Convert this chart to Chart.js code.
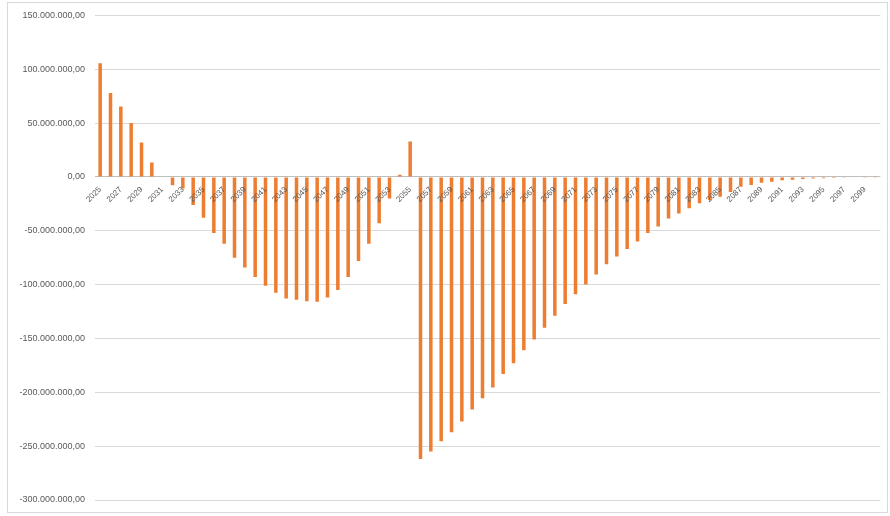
<!DOCTYPE html>
<html>
<head>
<meta charset="utf-8">
<script src="https://cdn.jsdelivr.net/npm/chart.js@4/dist/chart.umd.min.js"></script>
<style>
  html, body { margin: 0; padding: 0; background: #ffffff; }
  #wrap { position: relative; width: 890px; height: 516px; }
  #frame { position: absolute; left: 7px; top: 2px; width: 879px; height: 509px; border: 1px solid #d9d9d9; pointer-events: none; }
  canvas { position: absolute; left: 0; top: 0; }
</style>
</head>
<body>
<div id="wrap">
  <canvas id="c" width="890" height="516"></canvas>
  <div id="frame"></div>
</div>
<script>
const years = [
  '2025','2026','2027','2028','2029','2030','2031','2032','2033','2034',
  '2035','2036','2037','2038','2039','2040','2041','2042','2043','2044',
  '2045','2046','2047','2048','2049','2050','2051','2052','2053','2054',
  '2055','2056','2057','2058','2059','2060','2061','2062','2063','2064',
  '2065','2066','2067','2068','2069','2070','2071','2072','2073','2074',
  '2075','2076','2077','2078','2079','2080','2081','2082','2083','2084',
  '2085','2086','2087','2088','2089','2090','2091','2092','2093','2094',
  '2095','2096','2097','2098','2099','2100'
];

const values = [
  105500000, 78000000, 65500000, 50000000, 32000000, 13500000, 0, -7700000, -10700000, -26000000,
  -38000000, -52000000, -62000000, -75000000, -84000000, -93000000, -101000000, -107500000, -113000000, -114000000,
  -115500000, -116000000, -112000000, -105000000, -93000000, -78000000, -62000000, -43000000, -20000000, 2000000,
  33000000, -262000000, -255000000, -245500000, -237000000, -227000000, -216000000, -205500000, -195500000, -183000000,
  -173000000, -161000000, -151000000, -140000000, -129000000, -118000000, -109000000, -100000000, -90500000, -81000000,
  -74000000, -67000000, -60000000, -52000000, -46000000, -38500000, -34000000, -29000000, -24500000, -21500000,
  -18500000, -14000000, -9000000, -7500000, -5500000, -4500000, -3000000, -2500000, -2000000, -1500000,
  -1200000, -1000000, -800000, -500000, -300000, -200000
];

const yMin = -300000000;
const yMax = 150000000;
const yStep = 50000000;

function fmtEU(v) {
  const neg = v < 0;
  const s = Math.abs(Math.round(v)).toString().replace(/\B(?=(\d{3})+(?!\d))/g, '.');
  return (neg ? '-' : '') + s + ',00';
}

new Chart(document.getElementById('c'), {
  type: 'bar',
  data: {
    labels: years,
    datasets: [{
      data: values,
      backgroundColor: '#ED7D31',
      borderWidth: 0,
      categoryPercentage: 1,
      barPercentage: 0.34
    }]
  },
  options: {
    responsive: false,
    animation: false,
    devicePixelRatio: 1,
    layout: { padding: { left: 7, top: 13, right: 5, bottom: 16 } },
    plugins: { legend: { display: false }, tooltip: { enabled: false } },
    scales: {
      x: {
        position: { y: 0 },
        afterFit: (s) => { s.height = 0; },
        grid: { display: false, drawTicks: false },
        border: { display: false },
        ticks: {
          autoSkip: false,
          minRotation: 45,
          maxRotation: 45,
          padding: 8,
          z: 1,
          color: '#595959',
          font: { family: 'Liberation Sans, Arial, sans-serif', size: 8 },
          callback: function (val, idx) { return idx % 2 === 0 ? this.getLabelForValue(val) : ''; }
        }
      },
      y: {
        min: yMin,
        max: yMax,
        afterFit: (s) => { s.width = 88; },
        border: { display: false },
        grid: {
          drawTicks: false,
          color: (ctx) => (ctx.tick && ctx.tick.value === 0) ? '#bfbfbf' : '#d9d9d9',
          lineWidth: 1
        },
        ticks: {
          stepSize: yStep,
          padding: 10,
          color: '#595959',
          font: { family: 'Liberation Sans, Arial, sans-serif', size: 9 },
          callback: (v) => fmtEU(v)
        }
      }
    }
  }
});
</script>
</body>
</html>
